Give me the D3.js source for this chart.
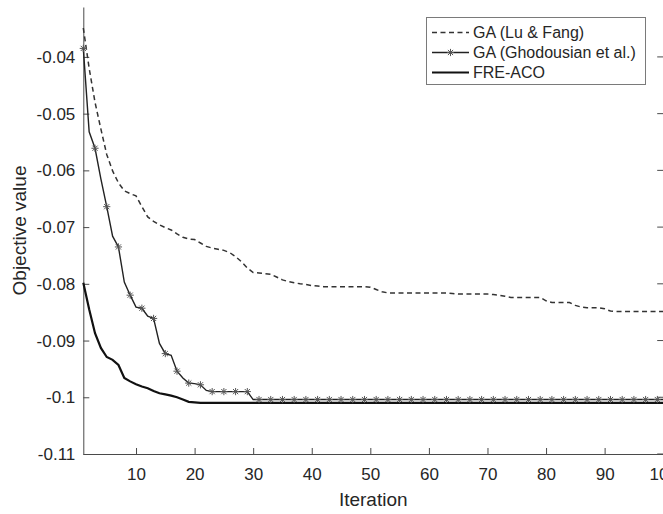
<!DOCTYPE html>
<html>
<head>
<meta charset="utf-8">
<script src="https://cdn.jsdelivr.net/npm/d3@7/dist/d3.min.js"></script>
<style>
  html, body { margin: 0; padding: 0; background: #fff; }
  svg { display: block; }
  text { font-family: "Liberation Sans", Arial, Helvetica, sans-serif; fill: #262626; }
</style>
</head>
<body>
<svg id="chart" width="663" height="514"></svg>
<script>
// ---------------- data ----------------
const iterations = d3.range(1, 101);

const gaLuFang = [
 -0.0349,-0.0420,-0.0480,-0.0527,-0.0572,-0.0601,-0.0622,-0.0636,-0.0641,-0.0645,
 -0.0664,-0.0682,-0.0690,-0.0696,-0.0701,-0.0705,-0.0712,-0.0718,-0.0721,-0.0722,
 -0.0728,-0.0734,-0.0737,-0.0739,-0.0741,-0.0745,-0.0752,-0.0761,-0.0772,-0.0780,
 -0.0781,-0.0782,-0.0783,-0.0788,-0.0793,-0.0796,-0.0798,-0.0800,-0.0801,-0.0803,
 -0.0804,-0.0805,-0.0805,-0.0805,-0.0805,-0.0805,-0.0805,-0.0805,-0.0805,-0.0806,
 -0.0810,-0.0814,-0.0816,-0.0816,-0.0816,-0.0816,-0.0816,-0.0816,-0.0816,-0.0816,
 -0.0816,-0.0816,-0.0816,-0.0817,-0.0818,-0.0818,-0.0818,-0.0818,-0.0818,-0.0818,
 -0.0819,-0.0820,-0.0822,-0.0824,-0.0824,-0.0824,-0.0824,-0.0824,-0.0824,-0.0830,
 -0.0833,-0.0833,-0.0833,-0.0833,-0.0838,-0.0841,-0.0842,-0.0842,-0.0842,-0.0844,
 -0.0848,-0.0849,-0.0849,-0.0849,-0.0849,-0.0849,-0.0849,-0.0849,-0.0849,-0.0849
];

const gaGhodousian = [
 -0.0385,-0.0532,-0.0561,-0.0615,-0.0664,-0.0716,-0.0735,-0.0797,-0.0820,-0.0841,
 -0.0843,-0.0857,-0.0861,-0.0905,-0.0923,-0.0926,-0.0954,-0.0966,-0.0975,-0.0976,
 -0.0978,-0.0988,-0.0990,-0.0990,-0.0990,-0.0990,-0.0990,-0.0990,-0.0990,-0.1004,
 -0.1004,-0.1004,-0.1004,-0.1004,-0.1004,-0.1004,-0.1004,-0.1004,-0.1004,-0.1004,
 -0.1004,-0.1004,-0.1004,-0.1004,-0.1004,-0.1004,-0.1004,-0.1004,-0.1004,-0.1004,
 -0.1004,-0.1004,-0.1004,-0.1004,-0.1004,-0.1004,-0.1004,-0.1004,-0.1004,-0.1004,
 -0.1004,-0.1004,-0.1004,-0.1004,-0.1004,-0.1004,-0.1004,-0.1004,-0.1004,-0.1004,
 -0.1004,-0.1004,-0.1004,-0.1004,-0.1004,-0.1004,-0.1004,-0.1004,-0.1004,-0.1004,
 -0.1004,-0.1004,-0.1004,-0.1004,-0.1004,-0.1004,-0.1004,-0.1004,-0.1004,-0.1004,
 -0.1004,-0.1004,-0.1004,-0.1004,-0.1004,-0.1004,-0.1004,-0.1004,-0.1004,-0.1004
];

const freAco = [
 -0.0798,-0.0845,-0.0887,-0.0913,-0.0929,-0.0934,-0.0943,-0.0966,-0.0972,-0.0977,
 -0.0981,-0.0984,-0.0989,-0.0993,-0.0995,-0.0997,-0.1000,-0.1004,-0.1008,-0.1009,
 -0.1010,-0.1010,-0.1010,-0.1010,-0.1010,-0.1010,-0.1010,-0.1010,-0.1010,-0.1010,
 -0.1010,-0.1010,-0.1010,-0.1010,-0.1010,-0.1010,-0.1010,-0.1010,-0.1010,-0.1010,
 -0.1010,-0.1010,-0.1010,-0.1010,-0.1010,-0.1010,-0.1010,-0.1010,-0.1010,-0.1010,
 -0.1010,-0.1010,-0.1010,-0.1010,-0.1010,-0.1010,-0.1010,-0.1010,-0.1010,-0.1010,
 -0.1010,-0.1010,-0.1010,-0.1010,-0.1010,-0.1010,-0.1010,-0.1010,-0.1010,-0.1010,
 -0.1010,-0.1010,-0.1010,-0.1010,-0.1010,-0.1010,-0.1010,-0.1010,-0.1010,-0.1010,
 -0.1010,-0.1010,-0.1010,-0.1010,-0.1010,-0.1010,-0.1010,-0.1010,-0.1010,-0.1010,
 -0.1010,-0.1010,-0.1010,-0.1010,-0.1010,-0.1010,-0.1010,-0.1010,-0.1010,-0.1010
];

const seriesNames = ["GA (Lu & Fang)", "GA (Ghodousian et al.)", "FRE-ACO"];
const xTickValues = [10, 20, 30, 40, 50, 60, 70, 80, 90, 100];
const xTickLabels = ["10", "20", "30", "40", "50", "60", "70", "80", "90", "100"];
const yTickValues = [-0.11, -0.10, -0.09, -0.08, -0.07, -0.06, -0.05, -0.04];
const yTickLabels = ["-0.11", "-0.1", "-0.09", "-0.08", "-0.07", "-0.06", "-0.05", "-0.04"];
const xLabel = "Iteration";
const yLabel = "Objective value";

// ---------------- layout ----------------
const svg = d3.select("#chart");
const axisColor = "#4a4a4a";
const x = d3.scaleLinear().domain([1, 100]).range([83.3, 663.2]);
const y = d3.scaleLinear().domain([-0.11, -0.0312]).range([454, 7]);

// axes
const gx = svg.append("g").attr("transform", `translate(0,${y(-0.11)})`)
  .call(d3.axisBottom(x).tickValues(xTickValues)
    .tickFormat((d, i) => xTickLabels[i]).tickSizeInner(-6).tickSizeOuter(0).tickPadding(14));
const gy = svg.append("g").attr("transform", `translate(${x(1)},0)`)
  .call(d3.axisLeft(y).tickValues(yTickValues)
    .tickFormat((d, i) => yTickLabels[i]).tickSizeInner(-6).tickSizeOuter(0).tickPadding(8));
[gx, gy].forEach(g => {
  g.select(".domain").attr("stroke", axisColor).attr("stroke-width", 1);
  g.selectAll(".tick line").attr("stroke", axisColor);
  g.selectAll(".tick text").attr("font-size", 17).attr("fill", "#262626")
    .attr("font-family", "'Liberation Sans', Arial, Helvetica, sans-serif");
});
// right-side inward ticks (box)
svg.append("g").selectAll("line").data(yTickValues).join("line")
  .attr("x1", x(100)).attr("x2", x(100) - 6)
  .attr("y1", d => y(d)).attr("y2", d => y(d))
  .attr("stroke", axisColor);

// axis labels
svg.append("text").attr("x", (x(1) + x(100)) / 2).attr("y", 506)
  .attr("text-anchor", "middle").attr("font-size", 19).text(xLabel);
svg.append("text").attr("transform", `translate(26,${(y(-0.11) + y.range()[1]) / 2}) rotate(-90)`)
  .attr("text-anchor", "middle").attr("font-size", 19).text(yLabel);

// lines
const line = d3.line().x((d, i) => x(iterations[i])).y(d => y(d));
svg.append("path").datum(gaLuFang).attr("d", line).attr("fill", "none")
  .attr("stroke", "#333").attr("stroke-width", 1.5).attr("stroke-dasharray", "5,3.5");
svg.append("path").datum(gaGhodousian).attr("d", line).attr("fill", "none")
  .attr("stroke", "#222").attr("stroke-width", 1.4);
svg.append("path").datum(freAco).attr("d", line).attr("fill", "none")
  .attr("stroke", "#111").attr("stroke-width", 2.2);

// star markers
function starPath(cx, cy, r) {
  const d = r * 0.72;
  return `M${cx - r},${cy}L${cx + r},${cy}M${cx},${cy - r}L${cx},${cy + r}` +
         `M${cx - d},${cy - d}L${cx + d},${cy + d}M${cx - d},${cy + d}L${cx + d},${cy - d}`;
}
const markerIdx = iterations.map((d, i) => i).filter(i => i % 2 === 0);
svg.append("g").selectAll("path").data(markerIdx).join("path")
  .attr("d", i => starPath(x(iterations[i]), y(gaGhodousian[i]), 3.6))
  .attr("stroke", "#555").attr("stroke-width", 1).attr("fill", "none");

// legend
const lg = svg.append("g");
lg.append("rect").attr("x", 426.5).attr("y", 17.5).attr("width", 219).attr("height", 67)
  .attr("fill", "#fff").attr("stroke", "#7a7a7a").attr("stroke-width", 1);
const rowsY = [32.5, 52.5, 72.5];
seriesNames.forEach((name, i) => {
  const ly = rowsY[i];
  const ln = lg.append("line").attr("x1", 432).attr("x2", 469).attr("y1", ly).attr("y2", ly);
  if (i === 0) ln.attr("stroke", "#333").attr("stroke-width", 1.5).attr("stroke-dasharray", "5,3.5");
  if (i === 1) {
    ln.attr("stroke", "#222").attr("stroke-width", 1.4);
    lg.append("path").attr("d", starPath(450.5, ly, 3.6)).attr("stroke", "#555").attr("fill", "none");
  }
  if (i === 2) ln.attr("stroke", "#111").attr("stroke-width", 2.2);
  lg.append("text").attr("x", 473).attr("y", ly).attr("dy", "0.36em")
    .attr("font-size", 16).text(name);
});
</script>
</body>
</html>
